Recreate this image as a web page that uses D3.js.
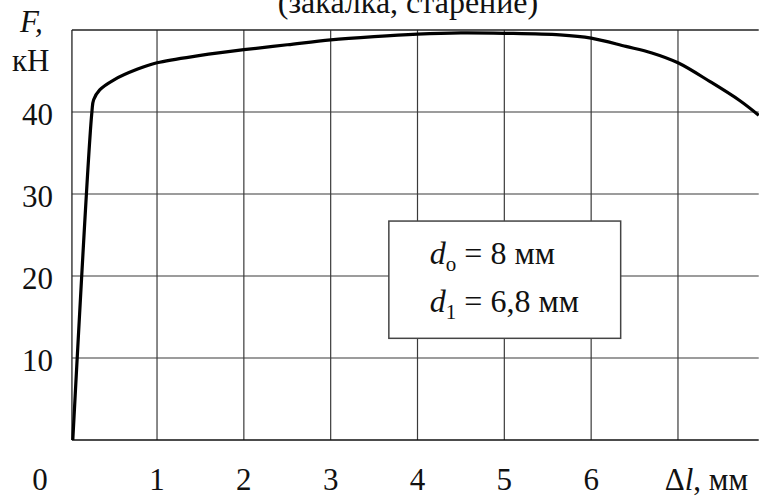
<!DOCTYPE html>
<html><head><meta charset="utf-8">
<script src="https://cdn.jsdelivr.net/npm/d3@7"></script>
<style>
html,body{margin:0;padding:0;background:#fff;}
svg{display:block;}
text{font-family:"Liberation Serif","DejaVu Serif",serif;fill:#111;}
</style></head>
<body>
<script>
// Data
const dl = [0.03, 0.25, 0.27, 0.34, 0.5, 0.77, 1.0, 1.5, 2.0, 2.5, 3.0, 3.5, 4.0, 4.5, 5.0, 5.64, 6.0, 6.4, 6.7, 7.0, 7.37, 7.71, 7.93];
const F  = [0, 40, 41.5, 42.7, 43.9, 45.2, 46.0, 46.9, 47.6, 48.2, 48.8, 49.2, 49.5, 49.65, 49.6, 49.4, 49.0, 48.0, 47.2, 46.0, 43.7, 41.4, 39.6];
const xTicks = [1, 2, 3, 4, 5, 6, 7];
const xTickLabels = ["1", "2", "3", "4", "5", "6"];
const yTicks = [10, 20, 30, 40];
const yTickLabels = ["10", "20", "30", "40"];
const title = "(закалка, старение)";
const legendLines = [["d", "о", " = 8 мм"], ["d", "1", " = 6,8 мм"]];

const W = 759, H = 498;
const FS = 31;
const svg = d3.select("body").append("svg").attr("width", W).attr("height", H);

const x = d3.scaleLinear().domain([0, 8]).range([70.2, 764.8]);
const y = d3.scaleLinear().domain([0, 50]).range([440, 30]);
const x0 = 0.02, x1 = 7.93;

// grid
const g = svg.append("g");
g.selectAll("line.v").data(xTicks).join("line")
  .attr("x1", d => x(d)).attr("x2", d => x(d))
  .attr("y1", y(50)).attr("y2", y(0))
  .attr("stroke", "#3a3a3a").attr("stroke-width", 1.2);
g.selectAll("line.h").data(yTicks).join("line")
  .attr("x1", x(x0)).attr("x2", x(x1))
  .attr("y1", d => y(d)).attr("y2", d => y(d))
  .attr("stroke", "#3a3a3a").attr("stroke-width", 1.2);
// frame
g.append("line").attr("x1", x(x0)).attr("x2", x(x1)).attr("y1", y(50)).attr("y2", y(50)).attr("stroke", "#222").attr("stroke-width", 1.3);
g.append("line").attr("x1", x(x0)).attr("x2", x(x0)).attr("y1", y(50)).attr("y2", y(0)).attr("stroke", "#222").attr("stroke-width", 1.3);
g.append("line").attr("x1", x(x0)).attr("x2", x(x1)).attr("y1", y(0)).attr("y2", y(0)).attr("stroke", "#111").attr("stroke-width", 1.6);

// curve
const pts = dl.map((d, i) => [d, F[i]]);
svg.append("path").datum(pts)
  .attr("d", d3.line().x(d => x(d[0])).y(d => y(d[1])).curve(d3.curveCatmullRom.alpha(0.5)))
  .attr("fill", "none").attr("stroke", "#000").attr("stroke-width", 3.2)
  .attr("stroke-linejoin", "round");

// legend box
const bx = x(3.67), by = y(26.7), bw = x(6.34) - x(3.67), bh = y(12.4) - y(26.7);
svg.append("rect").attr("x", bx).attr("y", by).attr("width", bw).attr("height", bh)
  .attr("fill", "#fff").attr("stroke", "#444").attr("stroke-width", 1.5);
legendLines.forEach((ln, i) => {
  const t = svg.append("text").attr("x", bx + 41).attr("y", by + 43 + i * 48).attr("font-size", 32);
  t.append("tspan").attr("font-style", "italic").text(ln[0]);
  t.append("tspan").attr("font-size", 21).attr("dy", 7).text(ln[1]);
  t.append("tspan").attr("dy", -7).text(ln[2]);
});

// y labels
svg.selectAll("text.yl").data(yTicks).join("text")
  .attr("x", 53).attr("y", d => y(d) + 13).attr("text-anchor", "end")
  .attr("font-size", FS).text((d, i) => yTickLabels[i]);
// x labels
svg.selectAll("text.xl").data(xTickLabels).join("text")
  .attr("x", (d, i) => x(xTicks[i])).attr("y", 490).attr("text-anchor", "middle")
  .attr("font-size", FS).text(d => d);
svg.append("text").attr("x", 40).attr("y", 490).attr("text-anchor", "middle").attr("font-size", FS).text("0");
// axis titles
const xt = svg.append("text").attr("x", 748).attr("y", 490).attr("text-anchor", "end").attr("font-size", FS);
xt.append("tspan").text("Δ");
xt.append("tspan").attr("font-style", "italic").text("l");
xt.append("tspan").text(", мм");
svg.append("text").attr("x", 20).attr("y", 32).attr("font-size", FS).attr("font-style", "italic").text("F,");
svg.append("text").attr("x", 12).attr("y", 71).attr("font-size", FS).text("кН");
// title
svg.append("text").attr("x", 408).attr("y", 13).attr("text-anchor", "middle").attr("font-size", 32).text(title);
</script>
</body></html>
